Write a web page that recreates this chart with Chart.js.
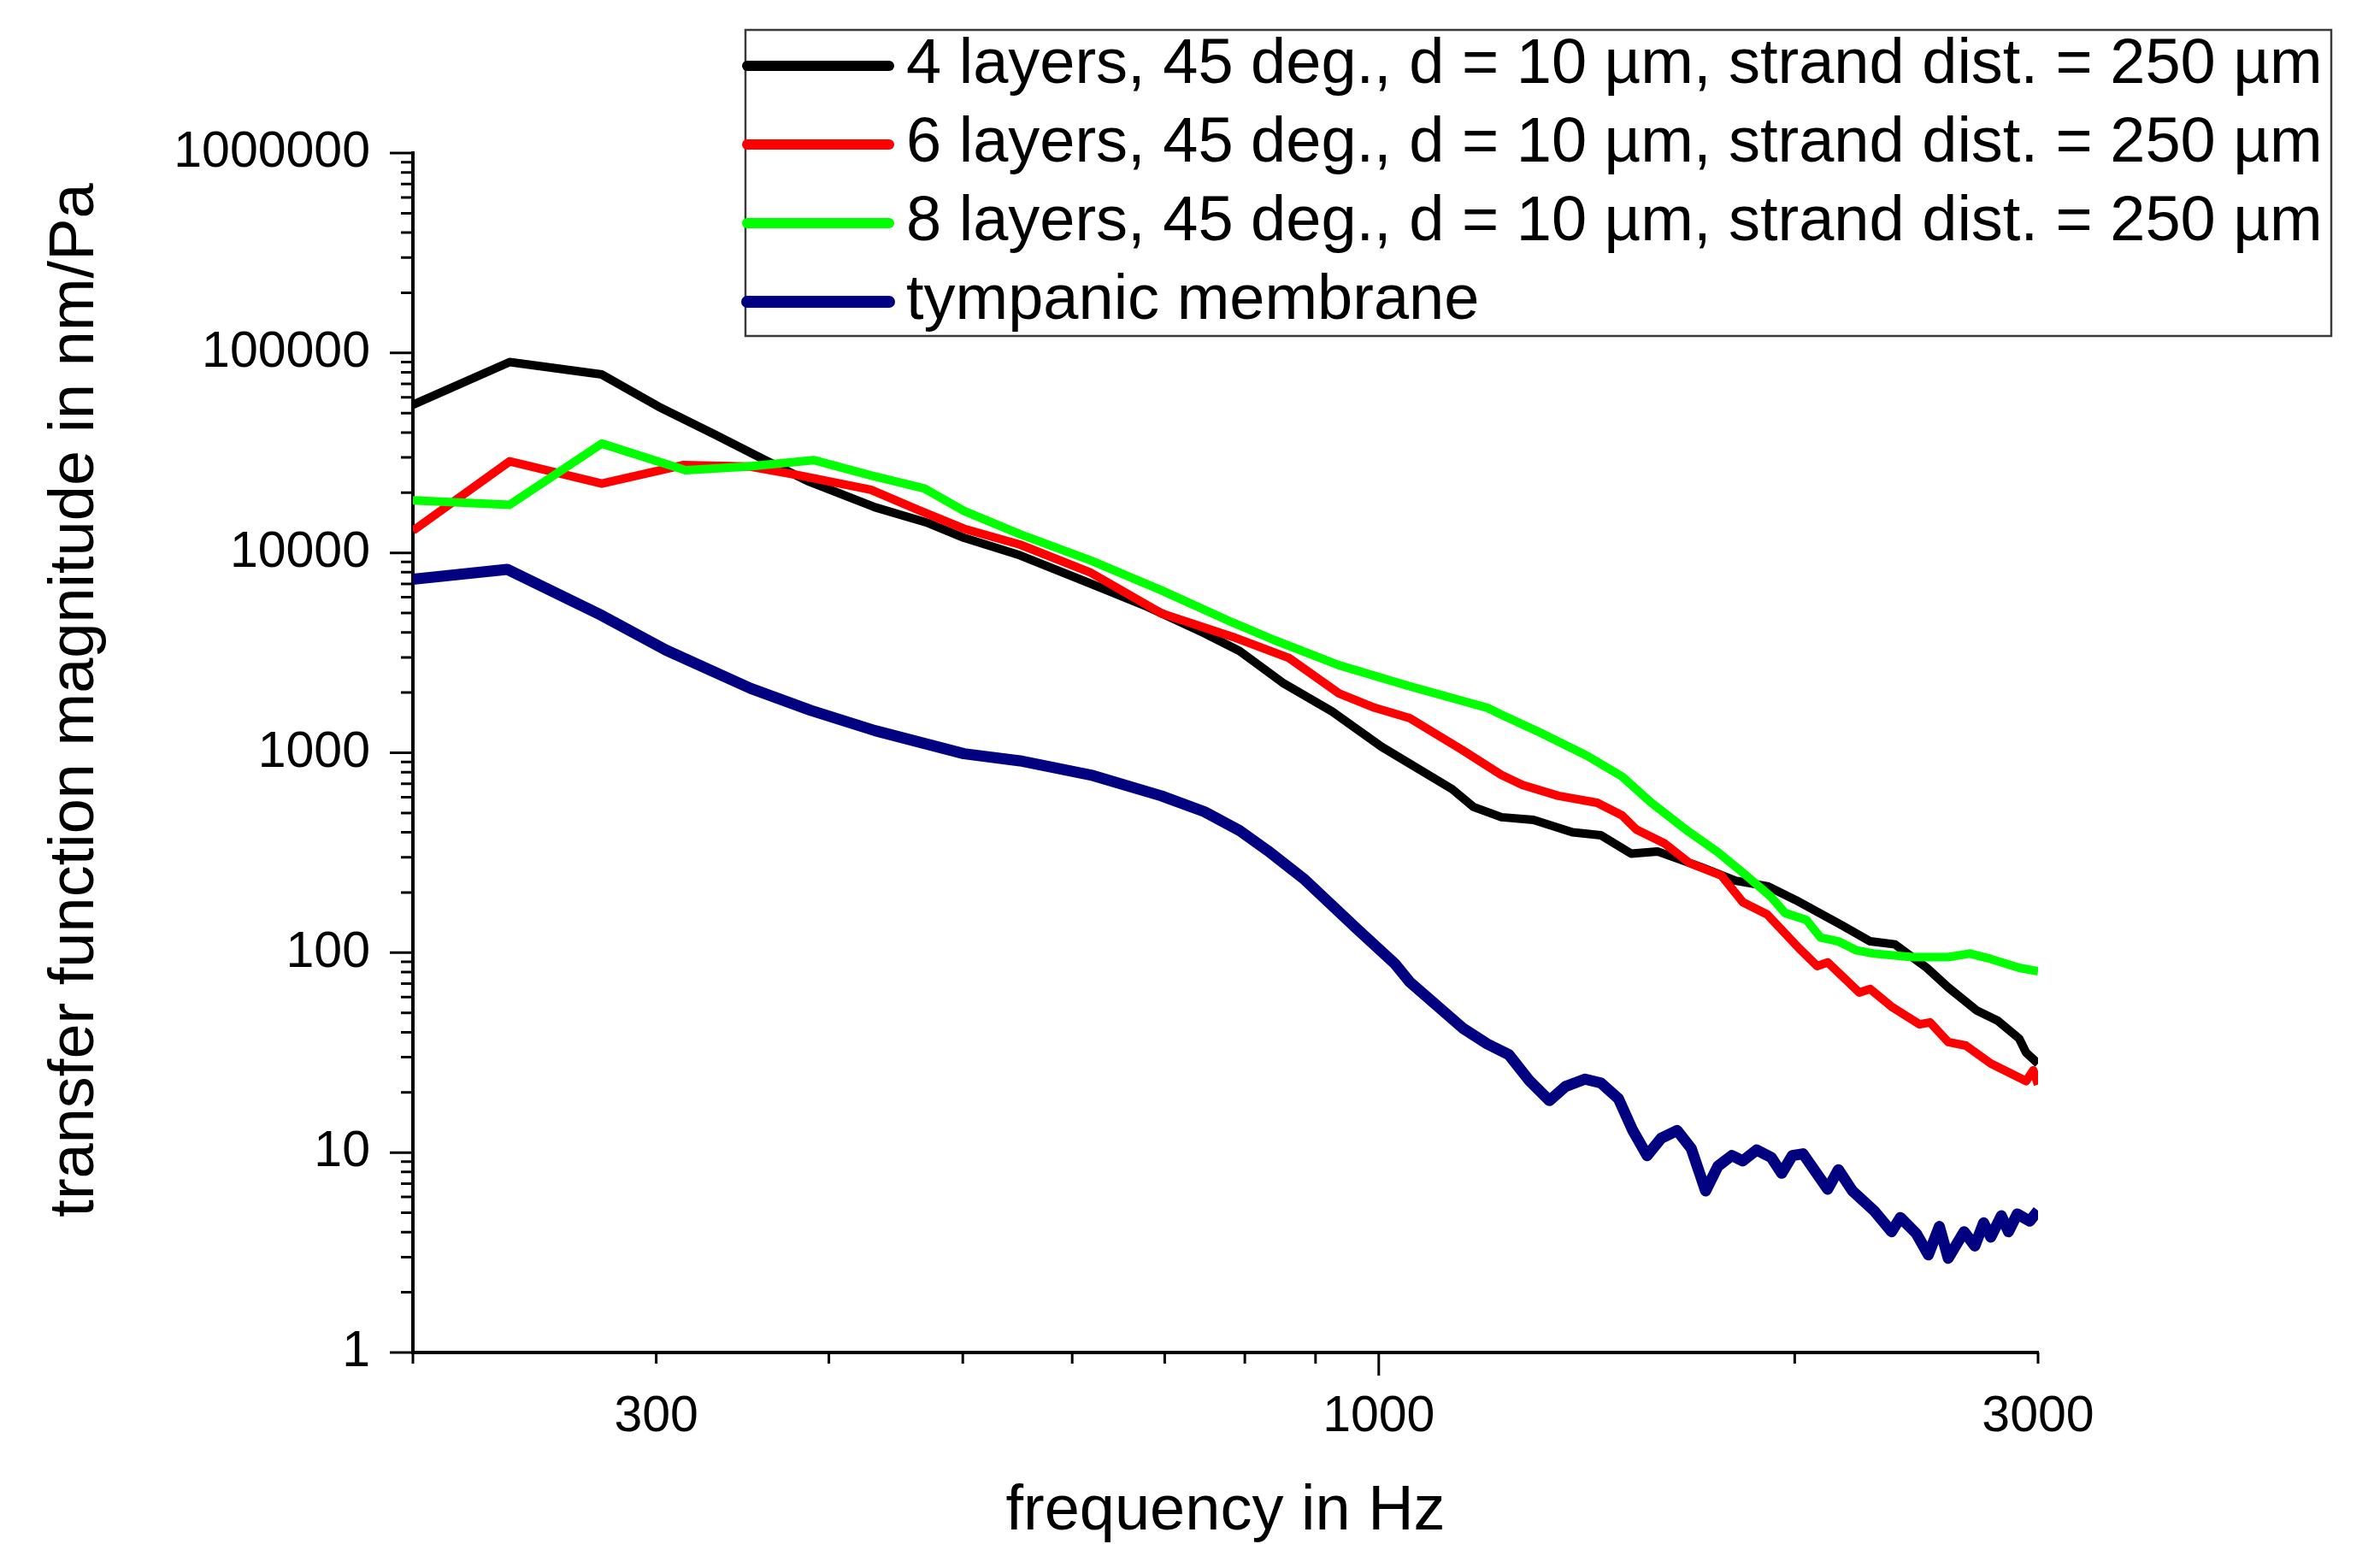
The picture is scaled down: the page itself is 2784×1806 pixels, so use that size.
<!DOCTYPE html>
<html>
<head>
<meta charset="utf-8">
<script src="https://cdn.jsdelivr.net/npm/chart.js@4.4.0/dist/chart.umd.min.js"></script>
<style>
html,body{margin:0;padding:0;background:#ffffff;}
#wrap{width:2784px;height:1806px;}
</style>
</head>
<body>
<div id="wrap"><canvas id="c" width="2784" height="1806"></canvas></div>
<script>
// ---------------- data ----------------
const seriesLabels = [
  "4 layers, 45 deg., d = 10 µm, strand dist. = 250 µm",
  "6 layers, 45 deg., d = 10 µm, strand dist. = 250 µm",
  "8 layers, 45 deg., d = 10 µm, strand dist. = 250 µm",
  "tympanic membrane"
];

const layers4Freq = [200, 235, 274, 301, 331, 359, 386, 432, 472, 501, 550, 619, 680, 748, 793, 852, 925, 1005, 1130, 1171, 1227, 1294, 1381, 1448, 1523, 1591, 1709, 1812, 1911, 2004, 2164, 2268, 2364, 2492, 2583, 2707, 2806, 2907, 2941, 3000];
const layers4Mag  = [55100, 90000, 78000, 54000, 39000, 29300, 22900, 16900, 14100, 11900, 9720, 7010, 5380, 3960, 3230, 2240, 1610, 1070, 658, 536, 476, 462, 400, 387, 313, 321, 269, 229, 215, 183, 137, 114, 110, 84, 67, 51.5, 45.6, 37.2, 31.6, 27.9];

const layers6Freq = [200, 235, 274, 314, 351, 381, 429, 466, 501, 550, 619, 697, 784, 861, 936, 993, 1053, 1150, 1227, 1271, 1349, 1439, 1500, 1536, 1611, 1678, 1770, 1834, 1911, 2015, 2076, 2113, 2227, 2268, 2350, 2463, 2506, 2583, 2660, 2773, 2941, 2976, 3000];
const layers6Mag  = [12900, 28700, 22200, 27500, 27000, 24400, 20700, 16200, 13200, 11000, 7950, 4960, 3800, 2980, 1980, 1680, 1490, 1030, 774, 689, 609, 562, 486, 413, 351, 281, 243, 179, 155, 105, 85.8, 89.4, 63.2, 65.8, 53.7, 43.8, 44.8, 35.7, 34.3, 27.9, 22.8, 25.8, 21.9];

const layers8Freq = [200, 235, 274, 315, 349, 390, 429, 469, 501, 550, 619, 697, 784, 841, 936, 1053, 1198, 1227, 1309, 1414, 1500, 1573, 1668, 1760, 1845, 1923, 1968, 2039, 2088, 2151, 2214, 2282, 2434, 2583, 2677, 2773, 2907, 3000];
const layers8Mag  = [18300, 17400, 35200, 25900, 27000, 29100, 24400, 21000, 16200, 12400, 9150, 6470, 4480, 3650, 2740, 2150, 1680, 1550, 1260, 969, 761, 566, 413, 318, 243, 190, 158, 146, 119, 114, 103, 99, 95, 95, 99, 93, 84, 80.8];

const membraneFreq = [200, 234, 274, 305, 351, 388, 432, 501, 550, 619, 696, 748, 793, 831, 882, 964, 1028, 1053, 1150, 1198, 1242, 1286, 1329, 1365, 1410, 1448, 1491, 1527, 1564, 1601, 1644, 1683, 1724, 1760, 1801, 1834, 1877, 1923, 1957, 1992, 2028, 2113, 2151, 2202, 2282, 2350, 2385, 2449, 2499, 2545, 2583, 2652, 2700, 2740, 2773, 2822, 2856, 2898, 2959, 3000];
const membraneMag  = [7370, 8270, 4860, 3260, 2100, 1630, 1290, 989, 911, 774, 609, 507, 408, 324, 235, 132, 87.6, 71.4, 42.0, 35.0, 30.9, 22.8, 18.2, 21.4, 23.3, 22.3, 18.6, 12.9, 9.66, 11.8, 12.9, 10.5, 6.43, 8.56, 9.66, 9.09, 10.3, 9.47, 7.88, 9.66, 9.86, 6.56, 8.21, 6.43, 5.13, 4.02, 4.73, 3.94, 3.08, 4.27, 2.96, 4.02, 3.41, 4.45, 3.78, 4.83, 4.02, 4.93, 4.54, 5.13];

// axis ticks
const yDecades = [1, 10, 100, 1000, 10000, 100000, 1000000];
const xTickValues = [200, 300, 400, 500, 600, 700, 800, 900, 1000, 2000, 3000];
const xLabelValues = [300, 1000, 3000];

const xTitle = "frequency in Hz";
const yTitle = "transfer function magnitude in nm/Pa";

// ---------------- helpers ----------------
const FONT = '"Liberation Sans", Arial, Helvetica, sans-serif';
function pairs(fx, fy) { return fx.map((f, i) => ({ x: f, y: fy[i] })); }
function isDecade(v) { const l = Math.log10(v); return Math.abs(l - Math.round(l)) < 1e-9; }

const yTickValues = [];
yDecades.forEach((d, i) => {
  if (i === yDecades.length - 1) { yTickValues.push(d); return; }
  for (let k = 1; k <= 9; k++) yTickValues.push(k * d);
});

const tickPlugin = {
  id: 'originTicks',
  afterDatasetsDraw(chart) {
    const ctx = chart.ctx;
    const xs = chart.scales.x, ys = chart.scales.y;
    const area = chart.chartArea;
    ctx.save();
    ctx.strokeStyle = '#000';
    ctx.lineWidth = 3;
    ctx.beginPath();
    ys.ticks.forEach(t => {
      const p = ys.getPixelForValue(t.value);
      const len = isDecade(t.value) ? 27 : 14;
      ctx.moveTo(area.left, p); ctx.lineTo(area.left - len, p);
    });
    xs.ticks.forEach(t => {
      const p = xs.getPixelForValue(t.value);
      const len = isDecade(t.value) ? 27 : 13;
      ctx.moveTo(p, area.bottom); ctx.lineTo(p, area.bottom + len);
    });
    ctx.stroke();
    ctx.restore();
  }
};

const yTitlePlugin = {
  id: 'yTitle',
  afterDraw(chart) {
    const ctx = chart.ctx;
    ctx.save();
    ctx.translate(89, 819);
    ctx.rotate(-Math.PI / 2);
    ctx.font = '74px ' + FONT;
    ctx.fillStyle = '#000';
    ctx.textAlign = 'center';
    ctx.textBaseline = 'middle';
    ctx.fillText(yTitle, 0, 0);
    ctx.restore();
  }
};

const legendPlugin = {
  id: 'boxLegend',
  afterDraw(chart) {
    const ctx = chart.ctx;
    const left = 872, top = 35, right = 2727, bottom = 393;
    ctx.save();
    ctx.strokeStyle = '#3a3a3a';
    ctx.lineWidth = 2.5;
    ctx.strokeRect(left, top, right - left, bottom - top);
    chart.data.datasets.forEach((ds, i) => {
      const y = 77 + i * 92;
      ctx.strokeStyle = ds.borderColor;
      ctx.lineWidth = ds.legendWidth;
      ctx.lineCap = 'round';
      ctx.beginPath();
      ctx.moveTo(left + 2, y); ctx.lineTo(1040, y);
      ctx.stroke();
      ctx.font = '74px ' + FONT;
      ctx.fillStyle = '#000';
      ctx.textAlign = 'left';
      ctx.textBaseline = 'middle';
      ctx.fillText(ds.label, 1060, y);
    });
    ctx.restore();
  }
};

const common = { pointRadius: 0, pointHoverRadius: 0, tension: 0, borderJoinStyle: 'round', borderCapStyle: 'butt', fill: false };

new Chart(document.getElementById('c'), {
  type: 'line',
  data: {
    datasets: [
      Object.assign({ label: seriesLabels[0], data: pairs(layers4Freq, layers4Mag), borderColor: '#000000', backgroundColor: '#000000', borderWidth: 10, legendWidth: 12, order: 4 }, common),
      Object.assign({ label: seriesLabels[1], data: pairs(layers6Freq, layers6Mag), borderColor: '#ff0000', backgroundColor: '#ff0000', borderWidth: 10, legendWidth: 12, order: 3 }, common),
      Object.assign({ label: seriesLabels[2], data: pairs(layers8Freq, layers8Mag), borderColor: '#00ff00', backgroundColor: '#00ff00', borderWidth: 10, legendWidth: 12, order: 2 }, common),
      Object.assign({ label: seriesLabels[3], data: pairs(membraneFreq, membraneMag), borderColor: '#000080', backgroundColor: '#000080', borderWidth: 13, legendWidth: 14, order: 1 }, common)
    ]
  },
  options: {
    responsive: false,
    devicePixelRatio: 1,
    animation: false,
    layout: { padding: { left: 0, right: 400, top: 179, bottom: 0 } },
    plugins: { legend: { display: false }, tooltip: { enabled: false }, title: { display: false } },
    scales: {
      x: {
        type: 'logarithmic',
        position: 'bottom',
        min: 200, max: 3000,
        afterBuildTicks: (s) => { s.ticks = xTickValues.map(v => ({ value: v })); },
        afterFit: (s) => { s.height = 224; },
        ticks: {
          autoSkip: false, maxRotation: 0, minRotation: 0,
          padding: 46,
          color: '#000',
          font: { family: FONT, size: 59, lineHeight: 1 },
          callback: (v) => xLabelValues.includes(v) ? String(v) : ''
        },
        grid: { display: false, drawTicks: false },
        border: { display: true, color: '#000', width: 4 },
        title: { display: true, text: xTitle, color: '#000', font: { family: FONT, size: 74, lineHeight: 1 }, padding: { top: 0, bottom: 0 } }
      },
      y: {
        type: 'logarithmic',
        position: 'left',
        min: 1, max: 1000000,
        afterBuildTicks: (s) => { s.ticks = yTickValues.map(v => ({ value: v })); },
        afterFit: (s) => { s.width = 483; },
        ticks: {
          autoSkip: false,
          padding: 50,
          color: '#000',
          font: { family: FONT, size: 59, lineHeight: 1 },
          callback: (v) => yDecades.includes(v) ? String(v) : ''
        },
        grid: { display: false, drawTicks: false },
        border: { display: true, color: '#000', width: 4 },
        title: { display: false }
      }
    }
  },
  plugins: [tickPlugin, yTitlePlugin, legendPlugin]
});
</script>
</body>
</html>
